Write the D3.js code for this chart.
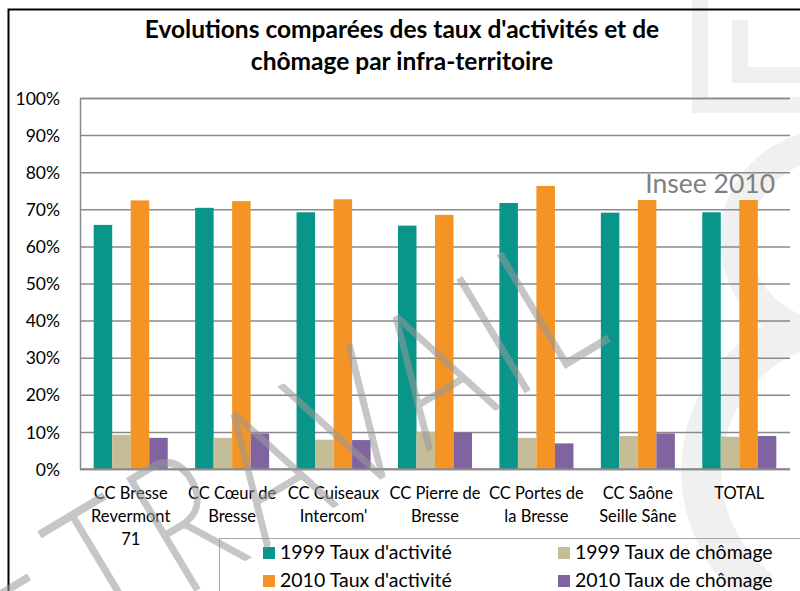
<!DOCTYPE html>
<html>
<head>
<meta charset="utf-8">
<style>
    body { margin: 0; background: #fff; }
    svg text { font-family: Lato, "Open Sans", sans-serif; }
</style>
</head>
<body>
<svg id="chart" width="800" height="591"></svg>
<script src="https://cdn.jsdelivr.net/npm/d3@7"></script>
<script>
    // data
    let categories = ["CC Bresse\nRevermont\n71", "CC Cœur de\nBresse", "CC Cuiseaux\nIntercom'",
        "CC Pierre de\nBresse", "CC Portes de\nla Bresse", "CC Saône\nSeille Sâne", "TOTAL"]
    let seriesNames = ["1999 Taux d'activité", "1999 Taux de chômage", "2010 Taux d'activité", "2010 Taux de chômage"]
    let act1999 = [0.658, 0.704, 0.692, 0.656, 0.717, 0.691, 0.692]
    let cho1999 = [0.092, 0.084, 0.079, 0.100, 0.084, 0.089, 0.087]
    let act2010 = [0.724, 0.722, 0.727, 0.685, 0.763, 0.725, 0.725]
    let cho2010 = [0.084, 0.096, 0.078, 0.098, 0.069, 0.096, 0.089]
    let yTicks = [0, 0.1, 0.2, 0.3, 0.4, 0.5, 0.6, 0.7, 0.8, 0.9, 1]
    let titleLines = ["Evolutions comparées des taux d'activités et de", "chômage par infra-territoire"]
    let colors = ["#0a958a", "#c4bd97", "#f39425", "#8064a2"]

    let values = [act1999, cho1999, act2010, cho2010]

    let svg = d3.select("#chart")

    // faint logo in the background on the right
    let bg = svg.append("g").attr("fill", "none").attr("stroke", "#f0f0f0")
    bg.append("path").attr("d", "M700,0 V105 H800 M740,20 V75 H800").attr("stroke-width", 16)
    bg.append("circle").attr("cx", 830).attr("cy", 240).attr("r", 95).attr("stroke-width", 30)
    bg.append("path").attr("d", "M800,330 A150,150 0 0 0 760,590").attr("stroke-width", 40)

    // chart frame
    svg.append("rect")
        .attr("x", 8.5).attr("y", 9.5)
        .attr("width", 820).attr("height", 620)
        .attr("fill", "none").attr("stroke", "#000").attr("stroke-width", 2)

    svg.selectAll(".title")
        .data(titleLines)
        .enter()
        .append("text")
        .attr("class", "title")
        .attr("x", 402)
        .attr("y", (d, i) => 38 + i * 32)
        .attr("text-anchor", "middle")
        .attr("font-weight", "bold")
        .attr("font-size", 24.5)
        .text(d => d)

    let plotLeft = 80, plotRight = 790, plotTop = 98, plotBottom = 469

    let yScale = d3.scaleLinear().domain([0, 1]).range([plotBottom, plotTop])
    let xScale = d3.scaleBand().domain(categories).range([plotLeft, plotRight])
        .paddingInner(0.27).paddingOuter(0.135)
    let xSub = d3.scaleBand().domain(d3.range(4)).range([0, xScale.bandwidth()])

    // gridlines + y labels
    let yAxis = svg.append("g")
        .attr("transform", "translate(" + plotLeft + ",0)")
        .call(d3.axisLeft(yScale).tickValues(yTicks).tickFormat(d3.format(".0%"))
            .tickSize(-(plotRight - plotLeft)).tickPadding(20))
    yAxis.select(".domain").attr("stroke", "#8a8a8a").attr("stroke-width", 1.5)
    yAxis.selectAll(".tick line").attr("stroke", "#8a8a8a").attr("stroke-width", 1.5)
    yAxis.selectAll(".tick text")
        .attr("font-size", 17.5).attr("fill", "#000")
        .attr("font-family", "Lato, sans-serif")
        .attr("dy", "0.35em")

    // bars
    let groups = svg.selectAll(".grp")
        .data(categories)
        .enter()
        .append("g")
        .attr("class", "grp")
        .attr("transform", d => "translate(" + xScale(d) + ",0)")

    groups.selectAll("rect")
        .data((d, i) => values.map((s, k) => ({ k: k, v: s[i] })))
        .enter()
        .append("rect")
        .attr("x", d => xSub(d.k))
        .attr("width", xSub.bandwidth())
        .attr("y", d => yScale(d.v))
        .attr("height", d => yScale(0) - yScale(d.v))
        .attr("fill", d => colors[d.k])

    // x axis line
    svg.append("line")
        .attr("x1", plotLeft).attr("x2", plotRight)
        .attr("y1", yScale(0)).attr("y2", yScale(0))
        .attr("stroke", "#8a8a8a").attr("stroke-width", 1.5)

    // x labels
    let xl = svg.selectAll(".xlab")
        .data(categories)
        .enter()
        .append("text")
        .attr("class", "xlab")
        .attr("text-anchor", "middle")
        .attr("font-size", 16.5)
        .attr("y", 499)
    xl.selectAll("tspan")
        .data(d => d.split("\n").map(t => ({ t: t, c: d })))
        .enter()
        .append("tspan")
        .attr("x", d => xScale(d.c) + xScale.bandwidth() / 2)
        .attr("dy", (d, i) => i == 0 ? 0 : 23)
        .text(d => d.t)

    svg.append("text")
        .attr("x", 775).attr("y", 193)
        .attr("text-anchor", "end")
        .attr("font-size", 26.5)
        .attr("fill", "#808080")
        .text("Insee 2010")

    // legend
    svg.append("rect")
        .attr("x", 219.5).attr("y", 538.5)
        .attr("width", 620).attr("height", 100)
        .attr("fill", "none").attr("stroke", "#a6a6a6").attr("stroke-width", 1)

    let legendPos = [[263, 559], [558, 559], [263, 587], [558, 587]]
    let leg = svg.selectAll(".leg")
        .data(seriesNames)
        .enter()
        .append("g")
        .attr("class", "leg")
        .attr("transform", (d, i) => "translate(" + legendPos[i][0] + "," + legendPos[i][1] + ")")
    leg.append("rect")
        .attr("x", 0).attr("y", -12)
        .attr("width", 12).attr("height", 12)
        .attr("fill", (d, i) => colors[i])
    leg.append("text")
        .attr("x", 17)
        .attr("font-size", 19.5)
        .text(d => d)

    // watermark
    let wm = svg.append("g")
        .attr("font-size", 150)
        .attr("font-weight", 300)
        .attr("fill", "#999")
        .attr("opacity", 0.55)
    wm.append("text")
        .attr("transform", "translate(104,646) rotate(-31) scale(0.92,1.25)")
        .attr("letter-spacing", 12)
        .text("TRAVAIL")
    wm.append("text")
        .attr("transform", "translate(22,646) rotate(-31) scale(0.92,1.25)")
        .text("-")
</script>
</body>
</html>
